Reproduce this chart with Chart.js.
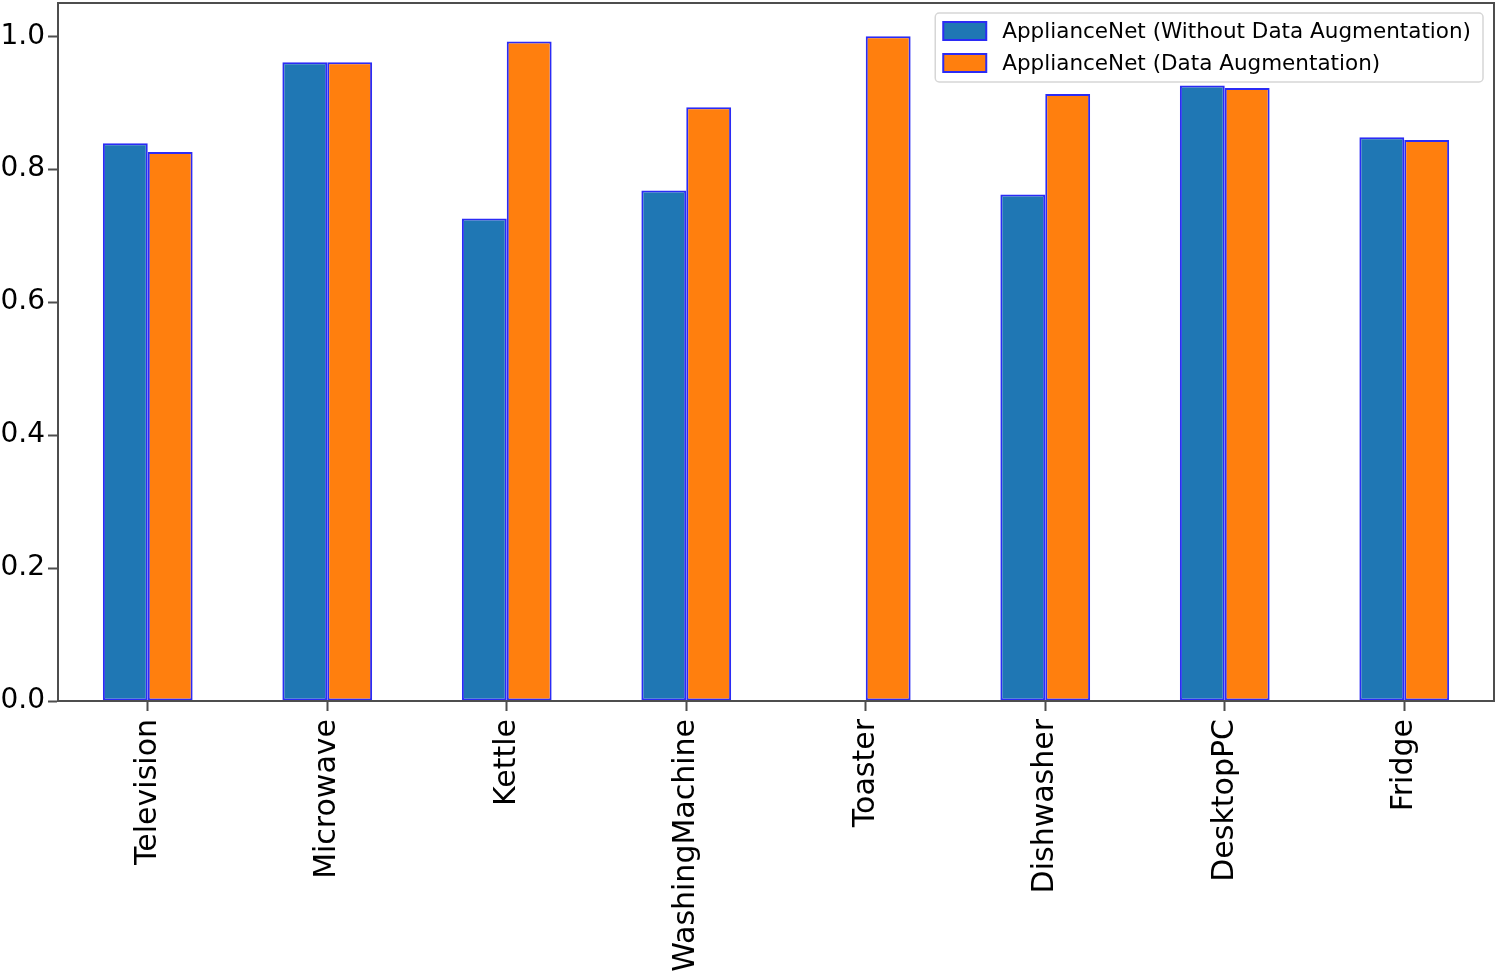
<!DOCTYPE html>
<html>
<head>
<meta charset="utf-8">
<script src="https://cdn.jsdelivr.net/npm/chart.js@4/dist/chart.umd.min.js"></script>
<style>
    html, body { margin: 0; padding: 0; background: #fff; }
    canvas { display: block; }
</style>
</head>
<body>
<canvas id="applianceChart" width="1496" height="973"></canvas>
<script>
const categories = ['Television', 'Microwave', 'Kettle', 'WashingMachine', 'Toaster', 'Dishwasher', 'DesktopPC', 'Fridge'];
const withoutAug = [0.839, 0.961, 0.726, 0.768, 0, 0.762, 0.926, 0.848];
const withAug = [0.826, 0.961, 0.992, 0.893, 1.0, 0.913, 0.922, 0.844];
const yTicks = [0, 0.2, 0.4, 0.6, 0.8, 1.0];

const FONT = 'DejaVu Sans';
const EDGE = '#2b2bf5';
const SPINE = '#4d4d4d';

// top/right spines like matplotlib
const framePlugin = {
    id: 'frame',
    afterDraw(chart) {
        const { ctx, chartArea: a } = chart;
        ctx.save();
        ctx.strokeStyle = SPINE;
        ctx.lineWidth = 2;
        ctx.strokeRect(a.left, a.top, a.right - a.left, a.bottom - a.top);
        ctx.restore();
    }
};

// legend box in the upper right corner of the axes
const legendPlugin = {
    id: 'boxLegend',
    afterDraw(chart) {
        const { ctx, chartArea: a } = chart;
        const sets = chart.data.datasets;
        ctx.save();
        ctx.font = `21.5px "${FONT}"`;
        const textW = Math.max(...sets.map(d => ctx.measureText(d.label).width));
        const w = 8 + 43 + 16 + textW + 12;
        const h = 69;
        const x = a.right - 11 - w;
        const y = a.top + 10;
        ctx.fillStyle = 'rgba(255,255,255,0.8)';
        ctx.strokeStyle = '#d6d6d6';
        ctx.lineWidth = 1.5;
        ctx.beginPath();
        ctx.roundRect(x, y, w, h, 4);
        ctx.fill();
        ctx.stroke();
        sets.forEach((d, i) => {
            const cy = y + 18 + i * 32;
            ctx.fillStyle = d.backgroundColor;
            ctx.fillRect(x + 8, cy - 9, 43, 18);
            ctx.strokeStyle = d.borderColor;
            ctx.lineWidth = 2;
            ctx.strokeRect(x + 8, cy - 9, 43, 18);
            ctx.fillStyle = '#000';
            ctx.textBaseline = 'middle';
            ctx.fillText(d.label, x + 67, cy + 1);
        });
        ctx.restore();
    }
};

const chartCtx = document.getElementById('applianceChart').getContext('2d');
const applianceChart = new Chart(chartCtx, {
    type: 'bar',
    data: {
        labels: categories,
        datasets: [
            { label: 'ApplianceNet (Without Data Augmentation)', data: withoutAug, backgroundColor: '#1f77b4', borderColor: EDGE, borderWidth: 2, borderSkipped: false },
            { label: 'ApplianceNet (Data Augmentation)', data: withAug, backgroundColor: '#ff7f0e', borderColor: EDGE, borderWidth: 2, borderSkipped: false }
        ]
    },
    options: {
        responsive: false,
        animation: false,
        layout: { padding: { top: 3, right: 2, left: 0, bottom: 0 } },
        datasets: { bar: { categoryPercentage: 0.5, barPercentage: 1.0 } },
        scales: {
            x: {
                offset: true,
                grid: { display: true, drawOnChartArea: false, offset: false, tickLength: 10, tickWidth: 2, color: SPINE },
                border: { color: SPINE, width: 2 },
                ticks: { color: '#000', font: { family: FONT, size: 30 }, minRotation: 90, maxRotation: 90, padding: 8, autoSkip: false },
                afterFit: (scale) => { scale.height = 272; scale.paddingLeft = 0; scale.paddingRight = 0; }
            },
            y: {
                min: 0,
                max: 1.05,
                grid: { display: true, drawOnChartArea: false, tickLength: 10, tickWidth: 2, color: SPINE },
                border: { color: SPINE, width: 2 },
                ticks: { color: '#000', font: { family: FONT, size: 28 }, padding: 3, includeBounds: false, callback: (v) => v.toFixed(1) },
                afterBuildTicks: (scale) => { scale.ticks = yTicks.map(v => ({ value: v })); },
                afterFit: (scale) => { scale.width = 58; scale.paddingTop = 0; scale.paddingBottom = 0; }
            }
        },
        plugins: { legend: { display: false }, tooltip: { enabled: false } }
    },
    plugins: [framePlugin, legendPlugin]
});
</script>
</body>
</html>
